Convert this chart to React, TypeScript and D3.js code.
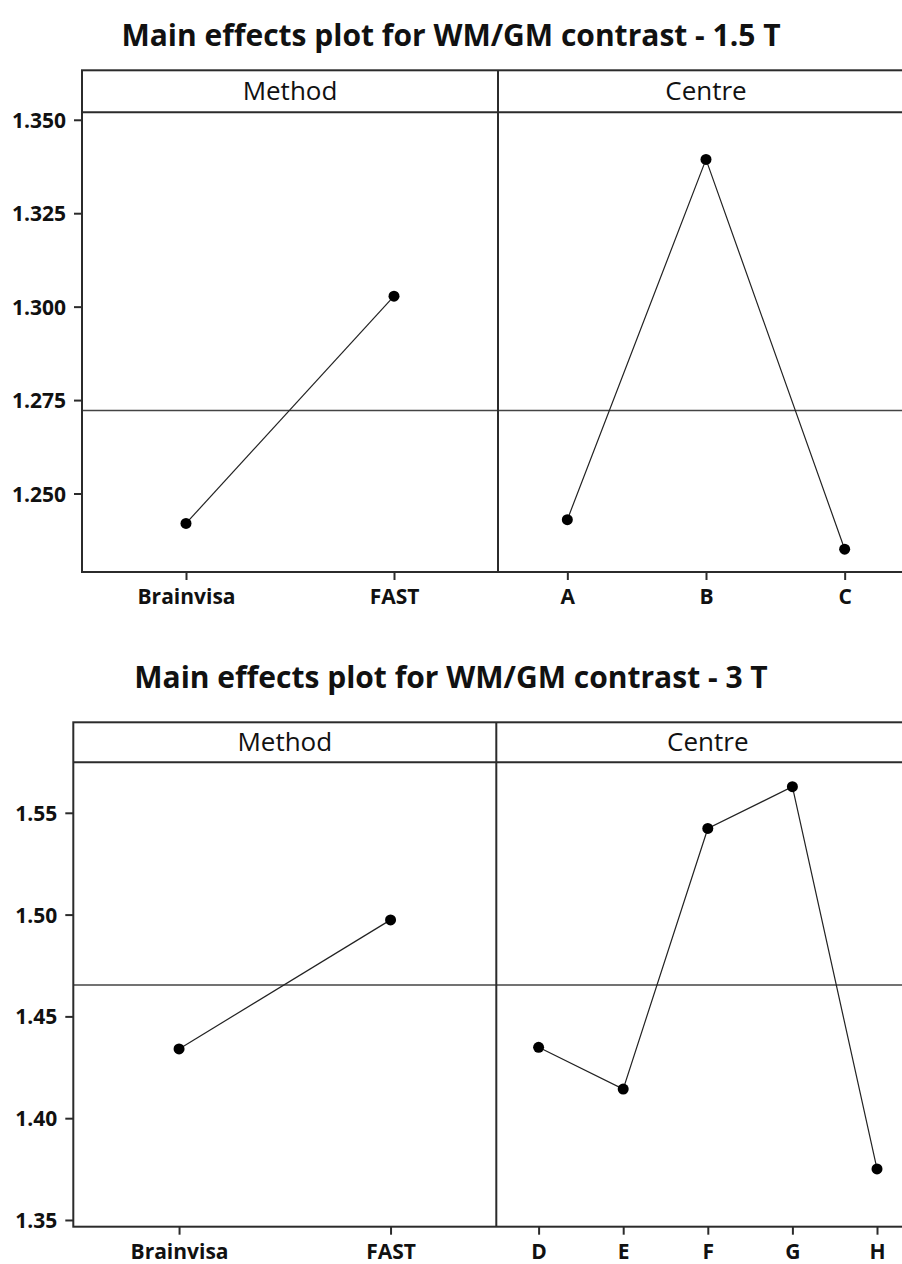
import React, { useEffect, useRef } from 'react';
import * as d3 from 'd3';

// factor levels
const methodLevels = ['Brainvisa', 'FAST'];
const centreLevels15 = ['A', 'B', 'C'];
const centreLevels3 = ['D', 'E', 'F', 'G', 'H'];

// means
const methodMeans15 = [1.242, 1.3028];
const centreMeans15 = [1.243, 1.3394, 1.2351];
const grandMean15 = 1.2722;

const methodMeans3 = [1.434, 1.4974];
const centreMeans3 = [1.4348, 1.4143, 1.5423, 1.5628, 1.3751];
const grandMean3 = 1.4654;

const yTicks15 = [1.25, 1.275, 1.3, 1.325, 1.35];
const yTicks3 = [1.35, 1.4, 1.45, 1.5, 1.55];

interface PlotCfg {
  title: string;
  titleY: number;
  left: number;
  top: number;
  headerBottom: number;
  headerBaseline: number;
  bottom: number;
  panelW: number;
  yDomain: [number, number];
  yTicks: number[];
  yFormat: string;
  methodMeans: number[];
  centreLevels: string[];
  centreMeans: number[];
  grandMean: number;
}

const plots: PlotCfg[] = [
  {
    title: 'Main effects plot for WM/GM contrast - 1.5 T',
    titleY: 46,
    left: 82,
    top: 70.3,
    headerBottom: 112.3,
    headerBaseline: 99.5,
    bottom: 572,
    panelW: 416,
    yDomain: [1.229, 1.352],
    yTicks: yTicks15,
    yFormat: '.3f',
    methodMeans: methodMeans15,
    centreLevels: centreLevels15,
    centreMeans: centreMeans15,
    grandMean: grandMean15,
  },
  {
    title: 'Main effects plot for WM/GM contrast - 3 T',
    titleY: 688,
    left: 73.3,
    top: 722.3,
    headerBottom: 762.3,
    headerBaseline: 751,
    bottom: 1226.7,
    panelW: 423,
    yDomain: [1.3467, 1.5748],
    yTicks: yTicks3,
    yFormat: '.2f',
    methodMeans: methodMeans3,
    centreLevels: centreLevels3,
    centreMeans: centreMeans3,
    grandMean: grandMean3,
  },
];

const FONT = "'Open Sans', 'Noto Sans', sans-serif";
const INK = '#2b2b2b';

function drawPlot(root: d3.Selection<SVGSVGElement, unknown, null, undefined>, cfg: PlotCfg) {
  const g = root.append('g');
  const right = cfg.left + 2 * cfg.panelW;
  const divider = cfg.left + cfg.panelW;

  const y = d3.scaleLinear().domain(cfg.yDomain).range([cfg.bottom, cfg.headerBottom]);

  g.append('text')
    .attr('x', 451)
    .attr('y', cfg.titleY)
    .attr('text-anchor', 'middle')
    .style('font-family', FONT)
    .style('font-weight', 700)
    .style('font-size', '30px')
    .style('fill', '#111')
    .text(cfg.title);

  // grand mean reference line
  g.append('line')
    .attr('x1', cfg.left).attr('x2', right)
    .attr('y1', y(cfg.grandMean)).attr('y2', y(cfg.grandMean))
    .attr('stroke', '#444').attr('stroke-width', 1.5);

  // y axis
  const yAxis = g.append('g')
    .attr('transform', `translate(${cfg.left},0)`)
    .call(d3.axisLeft(y).tickValues(cfg.yTicks).tickFormat(d3.format(cfg.yFormat)).tickSize(8).tickPadding(8));
  yAxis.select('.domain').remove();
  yAxis.selectAll('line').attr('stroke', INK).attr('stroke-width', 2);
  yAxis.selectAll('text')
    .attr('dy', '0.36em')
    .style('font-family', FONT)
    .style('font-weight', 700)
    .style('font-size', '21px')
    .style('fill', '#111');

  const panels = [
    { name: 'Method', levels: methodLevels, means: cfg.methodMeans, x0: cfg.left },
    { name: 'Centre', levels: cfg.centreLevels, means: cfg.centreMeans, x0: divider },
  ];

  panels.forEach(p => {
    const x = d3.scalePoint<string>().domain(p.levels).range([p.x0, p.x0 + cfg.panelW]).padding(0.5);

    g.append('text')
      .attr('x', p.x0 + cfg.panelW / 2)
      .attr('y', cfg.headerBaseline)
      .attr('text-anchor', 'middle')
      .style('font-family', FONT)
      .style('font-size', '26px')
      .style('fill', '#111')
      .text(p.name);

    const xAxis = g.append('g')
      .attr('transform', `translate(0,${cfg.bottom})`)
      .call(d3.axisBottom(x).tickSize(8).tickPadding(9));
    xAxis.select('.domain').remove();
    xAxis.selectAll('line').attr('stroke', INK).attr('stroke-width', 2);
    xAxis.selectAll('text')
      .attr('dy', '0.71em')
      .style('font-family', FONT)
      .style('font-weight', 700)
      .style('font-size', '21px')
      .style('fill', '#111');

    const pts = p.levels.map((l, i) => ({ level: l, value: p.means[i] }));
    const line = d3.line<{ level: string; value: number }>()
      .x(d => x(d.level) as number)
      .y(d => y(d.value));

    g.append('path')
      .datum(pts)
      .attr('d', line)
      .attr('fill', 'none')
      .attr('stroke', '#222')
      .attr('stroke-width', 1.2);

    g.append('g')
      .selectAll('circle')
      .data(pts)
      .join('circle')
      .attr('cx', d => x(d.level) as number)
      .attr('cy', d => y(d.value))
      .attr('r', 5.5)
      .attr('fill', '#000');
  });

  // frame, header strip and panel divider
  g.append('rect')
    .attr('x', cfg.left).attr('y', cfg.top)
    .attr('width', right - cfg.left).attr('height', cfg.bottom - cfg.top)
    .attr('fill', 'none').attr('stroke', INK).attr('stroke-width', 2);
  g.append('line')
    .attr('x1', cfg.left).attr('x2', right)
    .attr('y1', cfg.headerBottom).attr('y2', cfg.headerBottom)
    .attr('stroke', INK).attr('stroke-width', 2);
  g.append('line')
    .attr('x1', divider).attr('x2', divider)
    .attr('y1', cfg.top).attr('y2', cfg.bottom)
    .attr('stroke', INK).attr('stroke-width', 2);
}

export default function App() {
  const svgRef = useRef<SVGSVGElement>(null);

  useEffect(() => {
    if (!svgRef.current) return;
    const svg = d3.select(svgRef.current);
    svg.selectAll('*').remove();
    svg.append('rect').attr('width', 902).attr('height', 1264).attr('fill', '#fff');
    plots.forEach(cfg => drawPlot(svg, cfg));
  }, []);

  return (
    <svg
      ref={svgRef}
      width={902}
      height={1264}
      style={{ position: 'absolute', left: 0, top: 0, display: 'block' }}
    />
  );
}
